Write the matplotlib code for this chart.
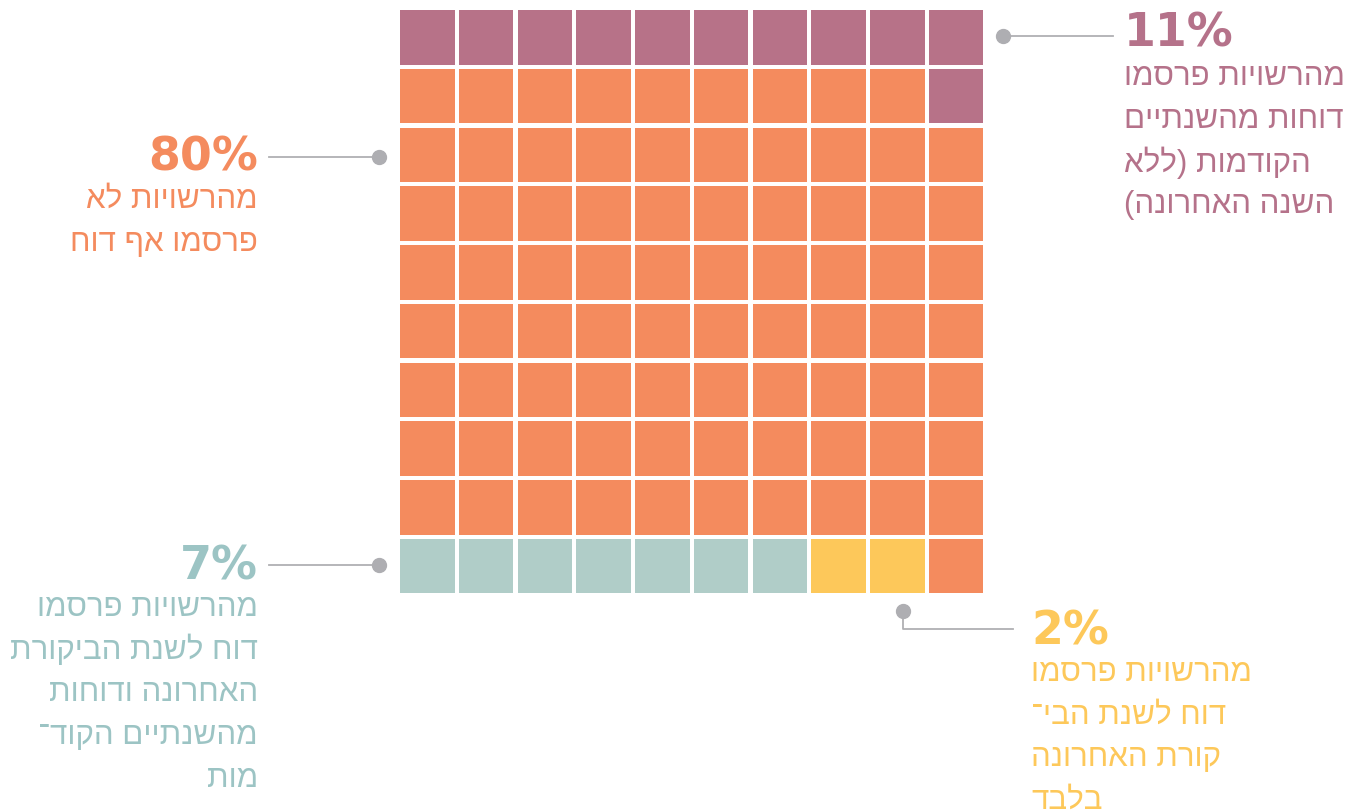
import matplotlib
matplotlib.use('Agg')
import matplotlib.pyplot as plt
from matplotlib.patches import Rectangle
import numpy as np

# data
categories = ['previous_only', 'none', 'latest_and_previous', 'latest_only']
percents = [11, 80, 7, 2]
colors = ['#b77288', '#f48b5e', '#b0cdc8', '#fdc85a']
text_colors = ['#b5728a', '#f48b5e', '#9cc4c4', '#fdc85a']
labels = [
    ['מהרשויות פרסמו', 'דוחות מהשנתיים', 'הקודמות (ללא', 'השנה האחרונה)'],
    ['מהרשויות לא', 'פרסמו אף דוח'],
    ['מהרשויות פרסמו', 'דוח לשנת הביקורת', 'האחרונה ודוחות', 'מהשנתיים הקוד־', 'מות'],
    ['מהרשויות פרסמו', 'דוח לשנת הבי־', 'קורת האחרונה', 'בלבד'],
]

HEB = ['Liberation Sans', 'Open Sans', 'DejaVu Sans']


def rtl(s):
    # matplotlib has no bidi support: give it visual order
    return s[::-1].translate(str.maketrans('()', ')('))


# build 10x10 grid: purple fills from top (right to left),
# teal then yellow from bottom left, the rest orange
grid = np.full((10, 10), 1)
top_order = [(r, c) for r in range(10) for c in range(9, -1, -1)]
for r, c in top_order[:percents[0]]:
    grid[r, c] = 0
bottom_order = [(9, c) for c in range(10)]
for k, (r, c) in enumerate(bottom_order[:percents[2] + percents[3]]):
    grid[r, c] = 2 if k < percents[2] else 3

W, H = 1360, 812
fig = plt.figure(figsize=(W / 100, H / 100), dpi=100)

# waffle axes
x0, y0, x1, y1 = 398, 9, 985.5, 596.5
ax = fig.add_axes([x0 / W, 1 - y1 / H, (x1 - x0) / W, (y1 - y0) / H])
ax.set_xlim(0, 10)
ax.set_ylim(10, 0)
ax.axis('off')
gap = 0.075
for r in range(10):
    for c in range(10):
        ax.add_patch(Rectangle((c + gap / 2, r + gap / 2), 1 - gap, 1 - gap,
                               facecolor=colors[grid[r, c]], edgecolor='none'))

# overlay in pixel coords for labels
ov = fig.add_axes([0, 0, 1, 1])
ov.set_xlim(0, W)
ov.set_ylim(H, 0)
ov.axis('off')
ov.patch.set_alpha(0)

line_c = '#b0b0b3'
dot_c = '#aeaeb2'

# connectors
ov.plot([1003, 1113], [37, 37], color=line_c, lw=1.3)
ov.plot([1003], [37], 'o', ms=10, color=dot_c)
ov.plot([269, 379], [158, 158], color=line_c, lw=1.3)
ov.plot([379], [158], 'o', ms=10, color=dot_c)
ov.plot([269, 379], [566, 566], color=line_c, lw=1.3)
ov.plot([379], [566], 'o', ms=10, color=dot_c)
ov.plot([903, 903, 1013], [612, 630, 630], color=line_c, lw=1.3)
ov.plot([903], [612], 'o', ms=10, color=dot_c)

# label anchors: (x, y of percent, ha, first line y)
anchors = [
    (1124, 34, 'left', 77),
    (258, 158, 'right', 200),
    (258, 567, 'right', 608),
    (1031, 632, 'left', 673),
]
step = 42.7
for i, (x, yp, ha, yl) in enumerate(anchors):
    ov.text(x, yp, f'{percents[i]}%', ha=ha, va='center', color=text_colors[i],
            fontsize=33, fontweight='heavy', family=['DejaVu Sans'])
    for j, line in enumerate(labels[i]):
        ov.text(x, yl + j * step, rtl(line), ha=ha, va='center',
                color=text_colors[i], fontsize=22.5, family=HEB)

fig.savefig('out.png', dpi=100)
